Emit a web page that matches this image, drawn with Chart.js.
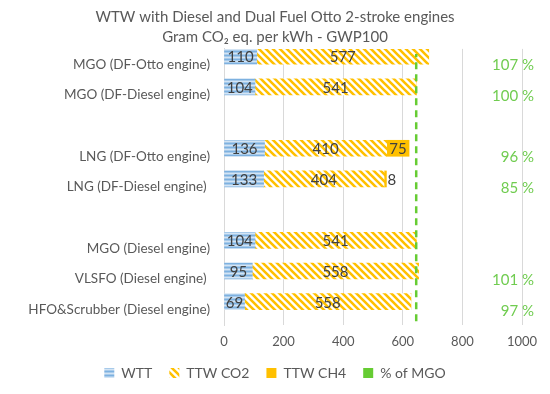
<!DOCTYPE html>
<html>
<head>
<meta charset="utf-8">
<script src="https://cdn.jsdelivr.net/npm/chart.js@4"></script>
<style>
  html, body { margin: 0; padding: 0; background: #fff; }
  #wrap { width: 550px; height: 394px; }
</style>
</head>
<body>
<div id="wrap"><canvas id="wtwChart" width="550" height="394"></canvas></div>
<script>
// categories (blank rows are the gaps between groups)
const fuels = ["MGO (DF-Otto engine)", "MGO (DF-Diesel engine)", "", "LNG (DF-Otto engine)", "LNG (DF-Diesel engine) ", "",
               "MGO (Diesel engine)", "VLSFO (Diesel engine) ", "HFO&Scrubber (Diesel engine)"];
const wtt    = [110, 104, null, 136, 133, null, 104, 95, 69];
const ttwCO2 = [577, 541, null, 410, 404, null, 541, 558, 558];
const ttwCH4 = [0, 0, null, 75, 8, null, 0, 0, 0];
const pctOfMGO = [107, 100, null, 96, 85, null, null, 101, 97];
const refIndex = 6; // MGO (Diesel engine) = 100 %
const xTicks = [0, 200, 400, 600, 800, 1000];

const refTotal = wtt[refIndex] + ttwCO2[refIndex] + ttwCH4[refIndex];
const FONT = 'Lato';
const textGrey = '#595959';
const green = '#66CC33';

// light blue with horizontal lines
function wttPattern() {
    const c = document.createElement('canvas');
    c.width = 4; c.height = 4;
    const g = c.getContext('2d');
    const rows = ['#A7CAEA', '#D3E4F4', '#A7CAEA', '#7DB1E0'];
    rows.forEach((col, i) => { g.fillStyle = col; g.fillRect(0, i, 4, 1); });
    return g.createPattern(c, 'repeat');
}

// orange diagonal stripes on white
function stripePattern() {
    const s = 7;
    const c = document.createElement('canvas');
    c.width = s; c.height = s;
    const g = c.getContext('2d');
    g.fillStyle = '#fff';
    g.fillRect(0, 0, s, s);
    g.strokeStyle = '#FFC000';
    g.lineWidth = 2.6;
    g.beginPath();
    for (let k = -1; k <= 1; k++) {
        g.moveTo(-s, -s + k * s);
        g.lineTo(2 * s, 2 * s + k * s);
    }
    g.stroke();
    return g.createPattern(c, 'repeat');
}

// value labels on the bars + the % column on the right
const labelPlugin = {
    id: 'labels',
    afterDatasetsDraw(chart) {
        const ctx = chart.ctx;
        ctx.save();
        ctx.font = '15px ' + FONT;
        ctx.fillStyle = '#404040';
        ctx.textBaseline = 'middle';
        [0, 1, 2].forEach(di => {
            const meta = chart.getDatasetMeta(di);
            const vals = chart.data.datasets[di].data;
            meta.data.forEach((el, i) => {
                const v = vals[i];
                if (!v) return;
                const txt = String(v);
                const w = ctx.measureText(txt).width;
                const segW = Math.abs(el.x - el.base);
                if (w + 2 > segW) {
                    ctx.textAlign = 'left';
                    ctx.fillText(txt, Math.max(el.x, el.base) + 1, el.y + 1);
                } else {
                    ctx.textAlign = 'center';
                    ctx.fillText(txt, (el.x + el.base) / 2, el.y + 1);
                }
            });
        });
        const xs = chart.scales.x, ys = chart.scales.y;
        ctx.fillStyle = '#70CC50';
        ctx.textAlign = 'right';
        pctOfMGO.forEach((p, i) => {
            if (p == null) return;
            ctx.fillText(p + ' %', xs.right + 12, ys.getPixelForValue(i) + 1);
        });
        ctx.restore();
    }
};

const ctx = document.getElementById('wtwChart').getContext('2d');

new Chart(ctx, {
    type: 'bar',
    data: {
        labels: fuels,
        datasets: [
            { label: 'WTT', data: wtt, backgroundColor: wttPattern(), borderWidth: 0 },
            { label: 'TTW CO2', data: ttwCO2, backgroundColor: stripePattern(), borderWidth: 0 },
            { label: 'TTW CH4', data: ttwCH4, backgroundColor: '#FFC000', borderWidth: 0 },
            {
                type: 'line',
                label: '% of MGO',
                data: [{ x: refTotal, y: -0.035 }, { x: refTotal, y: 1.03 }],
                yAxisID: 'yRef',
                order: -1, // draw on top of the bars
                borderColor: green,
                backgroundColor: green,
                borderWidth: 2.5,
                borderDash: [7, 5],
                pointRadius: 0,
                clip: false
            }
        ]
    },
    options: {
        indexAxis: 'y',
        responsive: false,
        animation: false,
        layout: { padding: { left: 28, right: 28, top: 0, bottom: 4 } },
        datasets: { bar: { barThickness: 16 } },
        scales: {
            x: {
                stacked: true,
                min: 0,
                max: 1000,
                afterBuildTicks: axis => { axis.ticks = xTicks.map(v => ({ value: v })); },
                afterFit: scale => { scale.height = 24; },
                grid: { color: '#D9D9D9', drawTicks: false },
                border: { display: false },
                ticks: { padding: 9, color: textGrey, callback: v => String(v), font: { family: FONT, size: 13 } }
            },
            y: {
                stacked: true,
                afterFit: scale => { scale.width = 196; },
                grid: { display: false, drawTicks: false },
                border: { display: true, color: '#D9D9D9' },
                ticks: { padding: 14, color: textGrey, autoSkip: false, font: { family: FONT, size: 13.5 } }
            },
            yRef: { type: 'linear', display: false, min: 0, max: 1 }
        },
        plugins: {
            tooltip: { enabled: false },
            title: {
                display: true,
                text: ['WTW with Diesel and Dual Fuel Otto 2-stroke engines', 'Gram CO\u2082 eq. per kWh - GWP100'],
                color: textGrey,
                font: { family: FONT, size: 15, weight: 'normal', lineHeight: 1.33 },
                padding: { top: 7, bottom: 2 }
            },
            legend: {
                position: 'bottom',
                labels: {
                    boxWidth: 10,
                    boxHeight: 10,
                    padding: 17,
                    color: textGrey,
                    font: { family: FONT, size: 14 },
                    sort: (a, b) => a.datasetIndex - b.datasetIndex,
                    generateLabels: chart => Chart.defaults.plugins.legend.labels.generateLabels(chart).map(it => {
                        it.lineWidth = 0;
                        it.lineDash = [];
                        return it;
                    })
                }
            }
        }
    },
    plugins: [labelPlugin]
});
</script>
</body>
</html>
